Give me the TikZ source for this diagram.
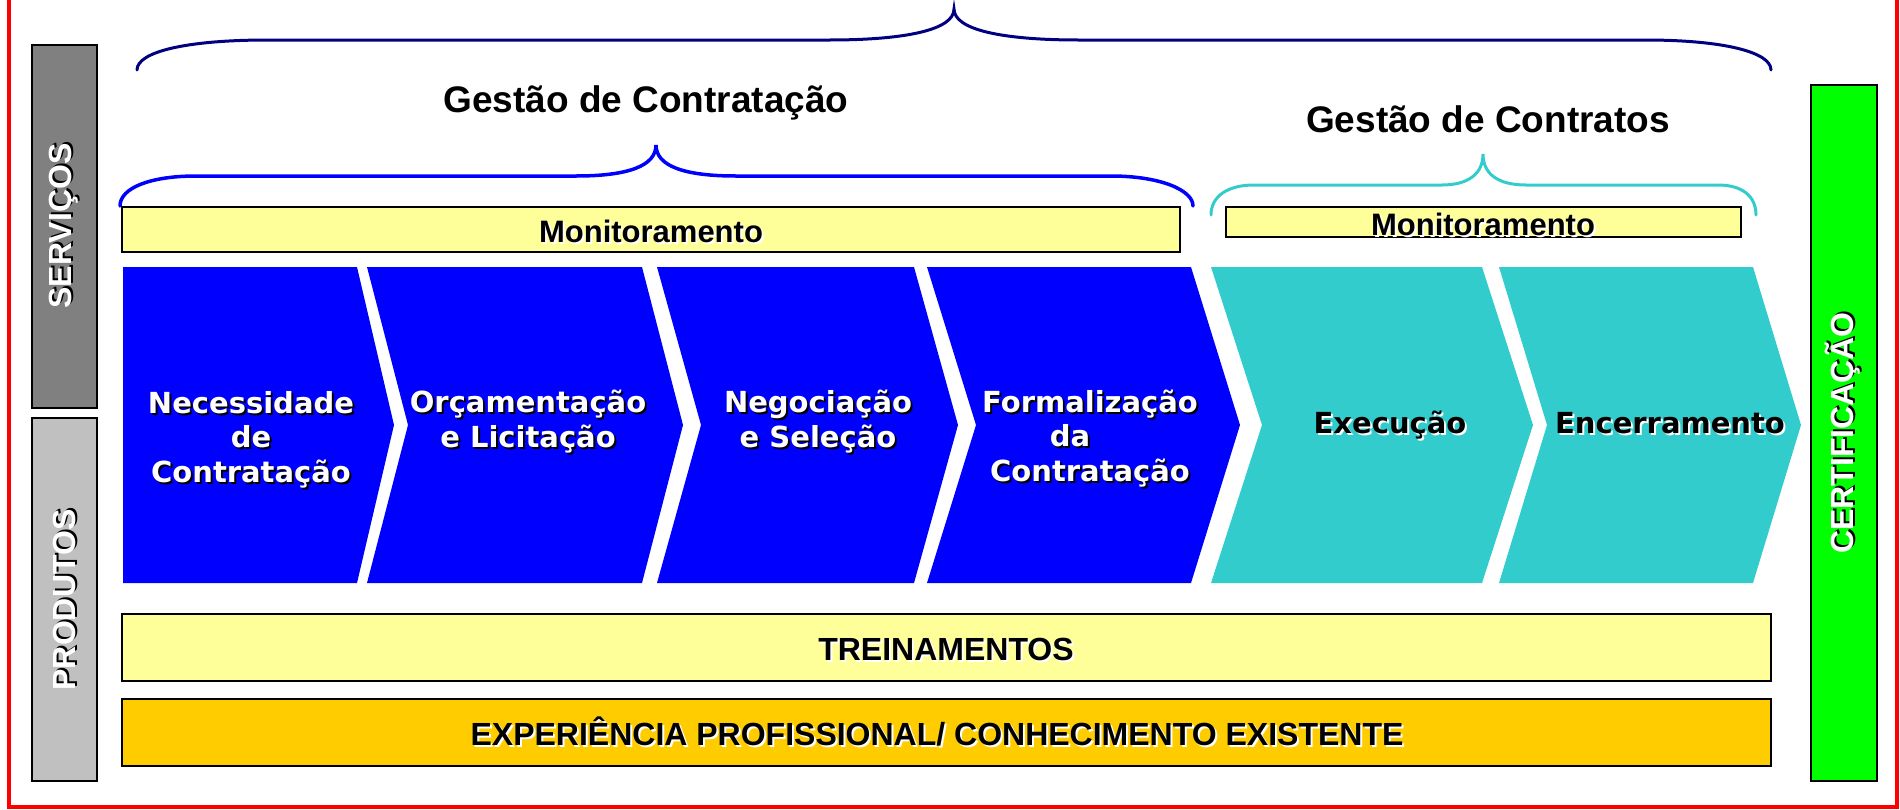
\documentclass[tikz,border=0pt]{standalone}
\usepackage{fontspec}
\setmainfont{Liberation Sans}
\newfontfamily\chevfont{DejaVu Sans}

\definecolor{navybrace}{HTML}{000080}
\definecolor{procblue}{HTML}{0000FF}
\definecolor{proccyan}{HTML}{33CCCC}
\definecolor{monyellow}{HTML}{FFFF99}
\definecolor{expgold}{HTML}{FFCC00}
\definecolor{servgray}{HTML}{808080}
\definecolor{prodgray}{HTML}{C0C0C0}
\definecolor{certgreen}{HTML}{00FF00}
\definecolor{framered}{HTML}{FF0000}

% text with a dark / light drop shadow
\newcommand{\dsh}[1]{\rlap{\kern2pt\raisebox{-2pt}{\textcolor{black}{#1}}}#1}
\newcommand{\lsh}[1]{\rlap{\kern2pt\raisebox{-2pt}{\textcolor{white}{#1}}}#1}

\tikzset{
  brace/.style={line width=3pt, line cap=round},
  barbox/.style={draw=black, line width=1.5pt},
  chevtext/.style={font=\chevfont\bfseries\fontsize{29}{34.5}\selectfont, align=center, anchor=base, inner sep=0pt},
  bartext/.style={font=\bfseries\fontsize{32}{38}\selectfont, anchor=base, inner sep=0pt},
  montext/.style={font=\bfseries\fontsize{31}{37}\selectfont, anchor=base, inner sep=0pt},
  titletext/.style={font=\bfseries\fontsize{37}{44}\selectfont, anchor=base, inner sep=0pt},
  sidetext/.style={font=\bfseries\fontsize{32}{38}\selectfont, text=white, rotate=90, inner sep=0pt}
}

\begin{document}
\begin{tikzpicture}[x=1pt,y=-1pt]
    \useasboundingbox (0,0) rectangle (1900,809);

    % --- Outer frame and side columns ---
    \draw[framered, line width=4pt] (9,-20) -- (9,807) -- (1897,807) -- (1897,-20);
    \draw[barbox, fill=servgray] (32,45) rectangle (97,408);
    \draw[barbox, fill=prodgray] (32,418) rectangle (97,781);
    \draw[barbox, fill=certgreen] (1811,85) rectangle (1877,781);
    \node[sidetext] (servicos) at (65,226) {\dsh{SERVIÇOS}};
    \node[sidetext] (produtos) at (65,600) {\dsh{PRODUTOS}};
    \node[sidetext] (certificacao) at (1844,433) {\dsh{CERTIFICAÇÃO}};
    % ---

    % --- Braces and titles ---
    \draw[brace, navybrace] (137,70) .. controls (137,52) and (185,40) .. (268,40) -- (829,40)
        .. controls (905,40) and (954,30) .. (954,9) .. controls (954,30) and (1003,40) .. (1079,40)
        -- (1645,40) .. controls (1723,40) and (1771,52) .. (1771,70);
    \draw[brace, procblue, line width=3.5pt] (120,206) .. controls (120,188) and (150,176) .. (196,176) -- (576,176)
        .. controls (628,176) and (656,166) .. (656,145) .. controls (656,166) and (684,176) .. (736,176)
        -- (1111,176) .. controls (1160,176) and (1193,190) .. (1193,206);
    \draw[brace, proccyan] (1211,215) .. controls (1211,196) and (1228,185) .. (1254,185) -- (1442,185)
        .. controls (1468,185) and (1483,174) .. (1483,154) .. controls (1483,174) and (1498,185) .. (1526,185)
        -- (1718,185) .. controls (1742,185) and (1756,196) .. (1756,215);
    \node[titletext] (contratacao) at (646,112) {Gestão de Contratação};
    \node[titletext] (contratos) at (1488,132) {Gestão de Contratos};
    % ---

    % --- Monitoring bars ---
    \draw[barbox, fill=monyellow] (122,207) rectangle (1180,252);
    \draw[barbox, fill=monyellow] (1226,207) rectangle (1741,237);
    \node[montext] (mon1) at (651,242) {\lsh{Monitoramento}};
    \node[montext] (mon2) at (1483,235) {\lsh{Monitoramento}};
    % ---

    % --- Process chevrons ---
    \fill[procblue] (123,267) -- (357,267) -- (394,425) -- (357,583) -- (123,583) -- cycle;
    \fill[procblue] (367,267) -- (642,267) -- (683,425) -- (642,583) -- (367,583) -- (408,425) -- cycle;
    \fill[procblue] (657,267) -- (914,267) -- (958,425) -- (914,583) -- (657,583) -- (701,425) -- cycle;
    \fill[procblue] (927,267) -- (1191,267) -- (1240,425) -- (1191,583) -- (927,583) -- (976,425) -- cycle;
    \fill[proccyan] (1211,267) -- (1482,267) -- (1533,425) -- (1482,583) -- (1211,583) -- (1262,425) -- cycle;
    \fill[proccyan] (1499,267) -- (1753,267) -- (1801,425) -- (1753,583) -- (1499,583) -- (1547,425) -- cycle;
    % (base anchor sits on the last line)
    \node[chevtext, text=white] (necessidade) at (251,482) {\dsh{Necessidade}\\ \dsh{de}\\ \dsh{Contratação}};
    \node[chevtext, text=white] (orcamento) at (528,447) {\dsh{Orçamentação}\\ \dsh{e Licitação}};
    \node[chevtext, text=white] (negociacao) at (818,447) {\dsh{Negociação}\\ \dsh{e Seleção}};
    \node[chevtext, text=white] (formalizacao) at (1090,481) {\dsh{Formalização}\\ \dsh{da}\rule{40pt}{0pt}\\ \dsh{Contratação}};
    \node[chevtext] (execucao) at (1390,433) {\lsh{Execução}};
    \node[chevtext] (encerramento) at (1670,433) {\lsh{Encerramento}};
    % ---

    % --- Base bars ---
    \draw[barbox, fill=monyellow] (122,614) rectangle (1771,681);
    \draw[barbox, fill=expgold] (122,699) rectangle (1771,766);
    \node[bartext] (treinamentos) at (946,660) {\lsh{TREINAMENTOS}};
    \node[bartext] (experiencia) at (937,745) {\lsh{EXPERIÊNCIA PROFISSIONAL/ CONHECIMENTO EXISTENTE}};
    % ---
\end{tikzpicture}
\end{document}
